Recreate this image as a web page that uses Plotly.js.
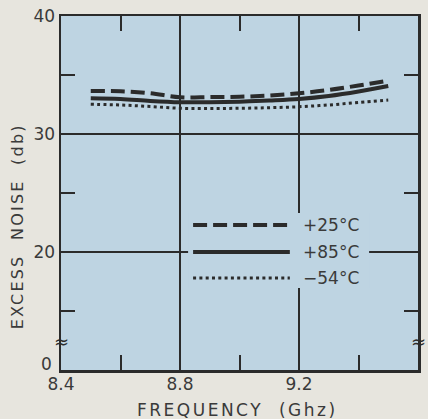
<!DOCTYPE html>
<html>
<head>
<meta charset="utf-8">
<script src="https://cdn.plot.ly/plotly-3.0.1.min.js"></script>
<style>
html,body{margin:0;padding:0;background:#e7e5de;}
#chart{width:428px;height:419px;}
g.annotation[data-index="0"] text{letter-spacing:2.2px;}
g.annotation[data-index="1"] text{letter-spacing:2.5px;}
</style>
</head>
<body>
<div id="chart"></div>
<script>
// Data (frequency in GHz, excess noise in dB)
const freq = [8.5, 8.6, 8.7, 8.8, 8.9, 9.0, 9.1, 9.2, 9.3, 9.4, 9.5];
const noise25 = [33.64, 33.62, 33.45, 33.12, 33.13, 33.16, 33.26, 33.45, 33.73, 34.11, 34.52];
const noise85 = [33.03, 32.97, 32.80, 32.69, 32.69, 32.74, 32.84, 32.97, 33.22, 33.60, 34.07];
const noiseM54 = [32.52, 32.46, 32.33, 32.18, 32.16, 32.18, 32.23, 32.31, 32.46, 32.67, 32.88];
const seriesNames = ['+25°C', '+85°C', '\u221254°C'];
const xTickVals = [8.4, 8.8, 9.2, 9.6];
const xTickText = ['8.4', '8.8', '9.2', '9.6'];
const yTickVals = [10, 20, 30, 40];
const yTickText = ['', '20', '30', '40'];   // bottom label "0" drawn separately (broken axis)

const ink = '#2b2b2b';
const txt = '#3a3a3a';
const plotBg = '#bed4e2';
const font = 'DejaVu Sans, Arial, sans-serif';

const styles = [
  {color: ink, width: 4, dash: '14px,6px'},
  {color: ink, width: 4, dash: 'solid'},
  {color: ink, width: 3, dash: '3px,3.3px'}
];
const ys = [noise25, noise85, noiseM54];
const traces = ys.map((y, i) => ({
  x: freq, y: y, type: 'scatter', mode: 'lines', name: seriesNames[i],
  line: Object.assign({shape: 'spline', smoothing: 1}, styles[i]),
  showlegend: false, hoverinfo: 'skip'
}));

const annotations = [
  // 0: y-axis title
  {xref: 'paper', yref: 'paper', x: -0.122, y: 0.407, xanchor: 'center', yanchor: 'middle',
   text: 'EXCESS  NOISE  (db)', textangle: -90, showarrow: false,
   font: {family: font, size: 16, color: txt}},
  // 1: x-axis title
  {xref: 'paper', yref: 'paper', x: 0.495, y: -0.113, xanchor: 'center', yanchor: 'middle',
   text: 'FREQUENCY  (Ghz)', showarrow: false,
   font: {family: font, size: 17, color: txt}},
  // bottom y label of the broken axis
  {xref: 'paper', yref: 'paper', x: -0.02, y: 0.017, xanchor: 'right', yanchor: 'middle',
   text: '0', showarrow: false, font: {family: font, size: 17, color: txt}}
];

// manual legend (paper coordinates)
const legY = [0.4096, 0.3333, 0.2599];
const shapes = [
  {type: 'rect', xref: 'paper', yref: 'paper', x0: 0.356, x1: 0.863, y0: 0.2316, y1: 0.4435,
   fillcolor: plotBg, line: {width: 0}, layer: 'above'}
];
legY.forEach((yy, i) => {
  shapes.push({type: 'line', xref: 'paper', yref: 'paper', x0: 0.370, x1: 0.641, y0: yy, y1: yy,
    layer: 'above', line: {color: ink, width: styles[i].width, dash: styles[i].dash}});
  annotations.push({xref: 'paper', yref: 'paper', x: 0.672, y: yy, xanchor: 'left', yanchor: 'middle',
    text: seriesNames[i], showarrow: false, font: {family: font, size: 17, color: txt}});
});
// axis break marks
[0, 1].forEach(px => annotations.push({xref: 'paper', yref: 'paper', x: px, y: 0.08,
  text: '≈', showarrow: false, font: {family: font, size: 18, color: ink},
  xanchor: 'center', yanchor: 'middle'}));

const layout = {
  width: 428, height: 419,
  margin: {l: 61, r: 10, t: 16, b: 49},
  paper_bgcolor: '#e7e5de', plot_bgcolor: plotBg,
  showlegend: false,
  font: {family: font, color: txt},
  xaxis: {
    range: [8.4, 9.6], tickvals: xTickVals, ticktext: xTickText,
    showgrid: true, gridcolor: ink, gridwidth: 1.5,
    ticks: '', showline: true, linecolor: ink, linewidth: 2.5, mirror: 'ticks',
    zeroline: false, tickfont: {family: font, size: 17, color: txt},
    ticklabelstandoff: -3,
    minor: {tickvals: [8.6, 9.0, 9.4], ticks: 'inside', ticklen: 15, tickwidth: 2, tickcolor: ink, showgrid: false}
  },
  yaxis: {
    range: [10, 40], tickvals: yTickVals, ticktext: yTickText,
    showgrid: true, gridcolor: ink, gridwidth: 1.5,
    ticks: '', showline: true, linecolor: ink, linewidth: 2.5, mirror: 'ticks',
    zeroline: false, tickfont: {family: font, size: 17, color: txt},
    minor: {tickvals: [15, 25, 35], ticks: 'inside', ticklen: 14, tickwidth: 2, tickcolor: ink, showgrid: false}
  },
  shapes: shapes,
  annotations: annotations
};

Plotly.newPlot('chart', traces, layout, {staticPlot: true, displayModeBar: false});
</script>
</body>
</html>
